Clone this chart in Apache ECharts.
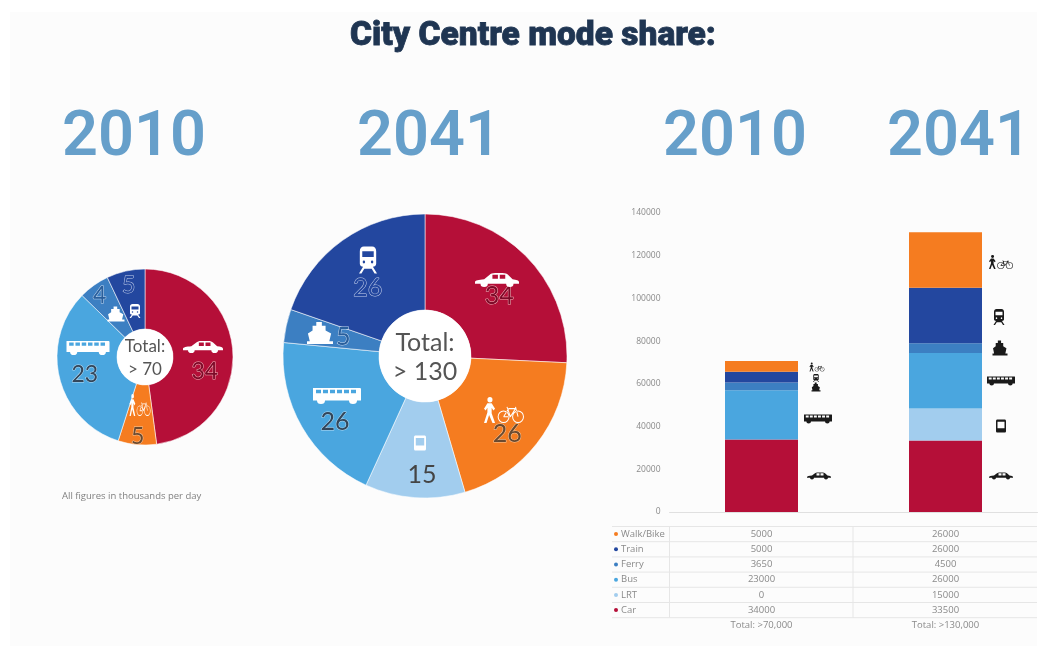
<!DOCTYPE html>
<html><head><meta charset="utf-8">
<style>html,body{margin:0;padding:0;background:#fff}#c{width:1046px;height:658px}</style>
<script src="https://cdn.jsdelivr.net/npm/echarts@6/dist/echarts.min.js"></script>
</head><body><div id="c"></div>
<script>
// ---- data ----
const modes = ['Car','Walk/Bike','LRT','Bus','Ferry','Train'];
const pie2010 = [34,5,0,23,4,5];
const pie2041 = [34,26,15,26,5,26];
const stackModes = ['Car','LRT','Bus','Ferry','Train','Walk/Bike'];
const car = [34000,33500];
const lrt = [0,15000];
const bus = [23000,26000];
const ferry = [3650,4500];
const train = [5000,26000];
const walk = [5000,26000];
const years = ['2010','2041'];
const tableRows = ['Walk/Bike','Train','Ferry','Bus','LRT','Car'];
const totals = ['Total: >70,000','Total: >130,000'];
const pieTotals = ['Total:\n> 70','Total:\n> 130'];
const titleText = 'City Centre mode share:';
const noteText = 'All figures in thousands per day';

// ---- styling ----
const colors = {'Car':'#b50f38','Walk/Bike':'#f57c20','LRT':'#a2cdee','Bus':'#4aa6df','Ferry':'#3c7fc2','Train':'#23479f'};
const labelStyle = {
  'Car':{color:'#7d0a28',textBorderColor:'#f0b0b8'},
  'Walk/Bike':{color:'#6a4a30',textBorderColor:'#f8c9a0'},
  'LRT':{color:'#444',textBorderColor:'transparent'},
  'Bus':{color:'#33465a',textBorderColor:'#b5dcf5'},
  'Ferry':{color:'#2a5f9c',textBorderColor:'#c0d6ee'},
  'Train':{color:'#23479f',textBorderColor:'#c3cfea'}
};
const offs2010 = {'Car':[-1,19],'Walk/Bike':[-2,19],'Bus':[-1,3],'Ferry':[-10,-12],'Train':[-3,-12]};
const offs2041 = {'Car':[4,7],'Walk/Bike':[6,18],'LRT':[4,22],'Bus':[-6,17],'Ferry':[13,2],'Train':[-1,11]};

// ---- icon silhouettes (holes use the opposite winding) ----
const wheel = (x,y,r)=>`M${x-r} ${y}A${r} ${r} 0 1 0 ${x+r} ${y}A${r} ${r} 0 1 0 ${x-r} ${y}Z`;
const ring = (x,y,r,t)=>`M${x-r} ${y}A${r} ${r} 0 1 1 ${x+r} ${y}A${r} ${r} 0 1 1 ${x-r} ${y}Z`+wheel(x,y,r-t);
const hole = (x,y,w,h)=>`M${x} ${y}V${y+h}H${x+w}V${y}Z`;
const bar = (x1,y1,x2,y2,t)=>{
  const l=Math.hypot(x2-x1,y2-y1),nx=-(y2-y1)/l*t/2,ny=(x2-x1)/l*t/2;
  return `M${x1+nx} ${y1+ny}L${x2+nx} ${y2+ny}L${x2-nx} ${y2-ny}L${x1-nx} ${y1-ny}Z`;
};
const icons = {
  car:'M0 11C0 9 4 8 10 7.5L16 2C17 1 19 0 22 0H30C33 0 35 1 36 2L41 7.5C45 8 48 9 48 11V13H42'+'A4 4 0 0 1 34 13H14A4 4 0 0 1 6 13H0Z'+hole(19,2,6,5)+hole(27,2,6,5),
  bus:'M1 2H47C48 2 48 3 48 4V16H44A4 4 0 0 1 36 16H12A4 4 0 0 1 4 16H0V3C0 2 0 2 1 2Z'+[3,10,17,24,31,38].map(x=>hole(x,4,5,4)).join(''),
  train:'M7 0H17C20 0 22 2 22 5V18C22 20 20 21 18 21L23 28H20L16.5 23H7.5L4 28H1L6 21C4 21 2 20 2 18V5C2 2 4 0 7 0Z'+hole(5,5,14,6)+wheel(7,16,1.5)+wheel(17,16,1.5),
  ferry:'M10 0H16V4H20V9L26 12L24 20H28V23H0V20H3L1 12L6 9V4H10Z',
  lrt:'M3 0H17C19 0 20 1 20 3V21C20 23 19 24 17 24H3C1 24 0 23 0 21V3C0 1 1 0 3 0Z'+hole(3,4,14,12),
  walk:'M9 0A3 3 0 1 1 8.99 0ZM6 7H11L15 13L13 15L11 12V18L15 29H12L8 20L5 29H2L6 17V12L4 15L2 13Z'
     +ring(25,22,7,1.2)+ring(42,22,7,1.2)
     +bar(25,22,31,13,1.2)+bar(31,13,39,13,1.2)+bar(39,13,33,22,1.2)+bar(33,22,25,22,1.2)+bar(39,11,42,22,1.2)+bar(29,11,33,22,1.2)
};
// icon placement: [name, centre x, centre y, width, height, fill]
const W='#ffffff', K='#1a1a1a';
const iconPlacement = [
  ['car',203,347,40,12,W],['walk',140,405,21,22,W],['bus',88,348,43,14,W],['ferry',116,314,17,15,W],['train',135,311,11,14,W],
  ['car',497,280,44,14,W],['walk',504,410,40,26,W],['lrt',420,443,12,15,W],['bus',337,396,48,16,W],['ferry',320,333,26,22,W],['train',368,260,18,27,W],
  ['car',819,476,24,7,K],['bus',818,419,28,9,K],['ferry',816,387,9,9,K],['train',816,378,6,8,K],['walk',817,367,15,9,K],
  ['car',1001,476,24,7,K],['lrt',1001,426,10,13,K],['bus',1001,381,28,9,K],['ferry',1000,348,15,15,K],['train',999,317,11,16,K],['walk',1001,262,24,14,K]
];

function pieSeries(values, center, r0, r, fs, offs){
  return {
    type:'pie', center, radius:[r0,r], startAngle:90, clockwise:true, silent:true,
    itemStyle:{borderColor:'rgba(255,255,255,.55)',borderWidth:1},
    emphasis:{disabled:true}, labelLine:{show:false},
    label:{show:true,position:'inside',fontFamily:'Lato',fontSize:fs,formatter:'{c}',textBorderWidth:1},
    data:modes.map((m,i)=>({name:m,value:values[i],
      itemStyle:{color:colors[m]},
      label:Object.assign({offset:offs[m]||[0,0]},labelStyle[m])})).filter(d=>d.value>0)
  };
}
const seriesData = {'Car':car,'LRT':lrt,'Bus':bus,'Ferry':ferry,'Train':train,'Walk/Bike':walk};

const graphic = [{type:'rect',z:-10,silent:true,shape:{x:10,y:12,width:1027,height:634},style:{fill:'#fcfcfc'}}];
// centre discs and totals
[[145,357,28,145,358.5,17,23,0],[425,356,46,425,357.5,25,29,1]].forEach(([x,y,r,tx,ty,fs,lh,i])=>{
  graphic.push({type:'circle',z:15,silent:true,shape:{cx:x,cy:y,r},style:{fill:'#fff'}});
  graphic.push({type:'text',z:16,silent:true,x:tx,y:ty,style:{text:pieTotals[i],fill:'#555',font:`${fs}px Lato`,lineHeight:lh,align:'center',verticalAlign:'middle'}});
});
graphic.push({type:'text',silent:true,x:62,y:496,style:{text:noteText,fill:'#808080',font:'9.5px "Open Sans"',verticalAlign:'middle'}});
// data table
const tableTop=526.5,rowH=15.2,tableL=612,tableR=1037,colX=[761.5,945.5];
for(let i=0;i<=tableRows.length;i++){
  graphic.push({type:'line',silent:true,shape:{x1:tableL,y1:tableTop+i*rowH,x2:tableR,y2:tableTop+i*rowH},style:{stroke:'#e6e6e6',lineWidth:1}});
}
[669.5,853].forEach(x=>graphic.push({type:'line',silent:true,shape:{x1:x,y1:tableTop,x2:x,y2:tableTop+6*rowH},style:{stroke:'#e6e6e6',lineWidth:1}}));
tableRows.forEach((m,i)=>{
  const y=tableTop+(i+.5)*rowH;
  graphic.push({type:'circle',silent:true,shape:{cx:616,cy:y,r:2},style:{fill:colors[m]}});
  graphic.push({type:'text',silent:true,x:621,y,style:{text:m,fill:'#8a8a8a',font:'9.5px "Open Sans"',verticalAlign:'middle'}});
  seriesData[m].forEach((v,c)=>graphic.push({type:'text',silent:true,x:colX[c],y,style:{text:String(v),fill:'#8a8a8a',font:'9.5px "Open Sans"',align:'center',verticalAlign:'middle'}}));
});
totals.forEach((t,c)=>graphic.push({type:'text',silent:true,x:colX[c],y:625,style:{text:t,fill:'#8a8a8a',font:'9.5px "Open Sans"',align:'center',verticalAlign:'middle'}}));

const yearStyle={color:'#669fca',fontFamily:'Roboto',fontWeight:600,fontSize:63};
const yearTitle=(t,x)=>({text:t,left:x,top:108,padding:0,textAlign:'center',textStyle:yearStyle});
const iconSeries={
  type:'custom',coordinateSystem:'none',silent:true,z:20,clip:false,
  data:iconPlacement.map((p,i)=>[i]),
  renderItem:(params)=>{
    const [n,cx,cy,w,h,fill]=iconPlacement[params.dataIndex];
    return {type:'path',shape:{pathData:icons[n],layout:'cover',x:cx-w/2,y:cy-h/2,width:w,height:h},style:{fill}};
  }
};
const chart = echarts.init(document.getElementById('c'),null,{renderer:'canvas'});
chart.setOption({
  animation:false,
  backgroundColor:'#ffffff',
  title:[
    {text:titleText,left:533,top:20,padding:0,textAlign:'center',textStyle:{color:'#1f3552',fontFamily:'Roboto',fontWeight:900,fontSize:33.5,textBorderColor:'#1f3552',textBorderWidth:0.8}},
    yearTitle(years[0],134),yearTitle(years[1],429),yearTitle(years[0],735),yearTitle(years[1],959)
  ],
  grid:{left:669.5,top:213,width:368,height:299},
  xAxis:{type:'category',data:years,axisTick:{show:false},axisLabel:{show:false},axisLine:{lineStyle:{color:'#e0e0e0'}}},
  yAxis:{type:'value',min:0,max:140000,interval:20000,splitLine:{show:false},axisLine:{show:false},axisTick:{show:false},
    axisLabel:{color:'#8a8a8a',fontSize:8.5,fontFamily:'Open Sans',margin:9,formatter:v=>String(v)}},
  series:[
    ...stackModes.map(m=>({type:'bar',name:m,stack:'mode',barWidth:73,silent:true,data:seriesData[m],itemStyle:{color:colors[m]}})),
    pieSeries(pie2010,[145,357],28,88,23,offs2010),
    pieSeries(pie2041,[425,356],46,142,25,offs2041),
    iconSeries
  ],
  graphic
});
</script></body></html>
